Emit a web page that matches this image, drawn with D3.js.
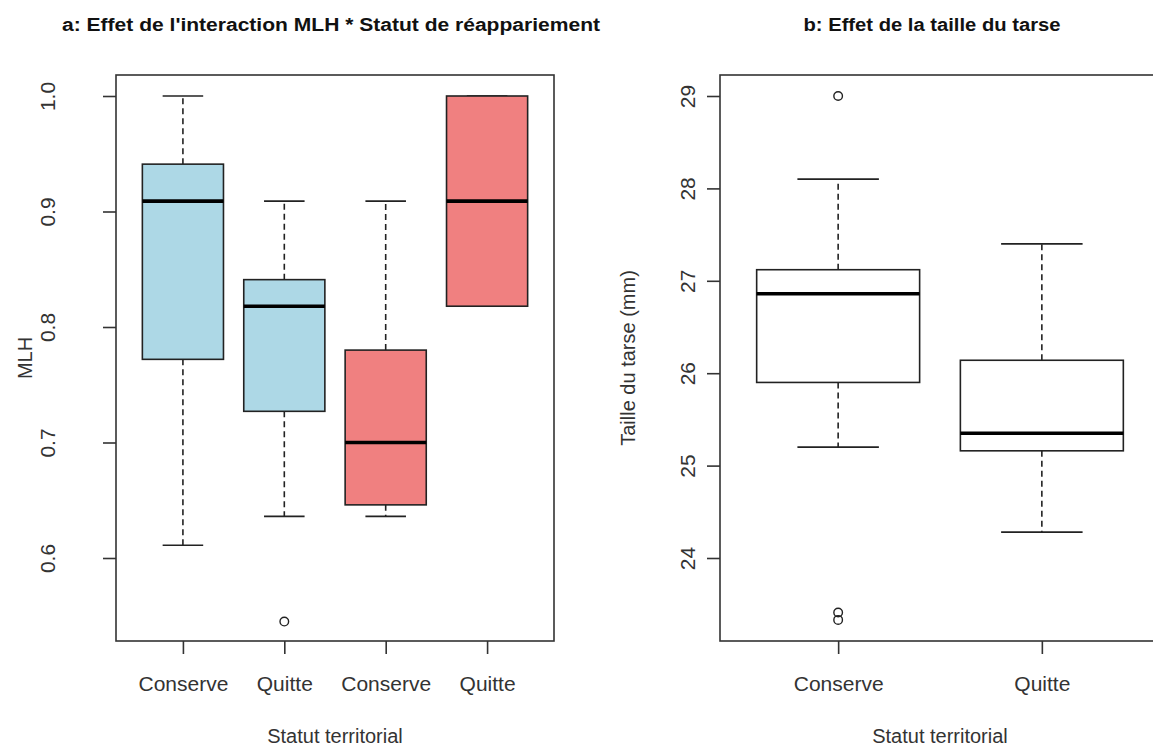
<!DOCTYPE html>
<html>
<head>
<meta charset="utf-8">
<script src="https://cdn.jsdelivr.net/npm/d3@7"></script>
<style>
  body { margin: 0; background: #fff; }
  text { font-family: "Liberation Sans", Arial, sans-serif; fill: #333; }
</style>
</head>
<body>
<svg id="chart" width="1153" height="746"></svg>
<script>
(function() {
"use strict";

// panel a: MLH by statut x reappariement
var catsA = ["Conserve", "Quitte", "Conserve", "Quitte"];
var lowA  = [0.611, 0.636, 0.636, 0.818];
var q1A   = [0.772, 0.727, 0.646, 0.818];
var medA  = [0.909, 0.818, 0.700, 0.909];
var q3A   = [0.941, 0.841, 0.780, 1.000];
var highA = [1.000, 0.909, 0.909, 1.000];
var outA  = [[], [0.545], [], []];
var ticksA = [0.6, 0.7, 0.8, 0.9, 1.0];

// panel b: taille du tarse
var catsB = ["Conserve", "Quitte"];
var lowB  = [25.20, 24.28];
var q1B   = [25.90, 25.16];
var medB  = [26.86, 25.35];
var q3B   = [27.12, 26.14];
var highB = [28.10, 27.40];
var outB  = [[29.0, 23.41, 23.33], []];
var ticksB = [24, 25, 26, 27, 28, 29];

var fillsA = ["#ADD8E6", "#ADD8E6", "#F08080", "#F08080"];
var fillsB = ["#ffffff", "#ffffff"];

var svg = d3.select("#chart");
var ink = "#222";

panel({
  left: 116, right: 554, top: 75, bottom: 641,
  title: "a: Effet de l'interaction MLH * Statut de réappariement",
  titleX: 331, titleLen: 538,
  ylab: "MLH", ylabX: 32, tickLabX: 55,
  cats: catsA, low: lowA, q1: q1A, med: medA, q3: q3A, high: highA, out: outA,
  fills: fillsA, ticks: ticksA, fmt: d3.format(".1f"),
  yTop: 1.0, yTopPx: 96, yRef: 0.6, yRefPx: 558
});

panel({
  left: 720, right: 1160, top: 75, bottom: 641,
  title: "b: Effet de la taille du tarse",
  titleX: 932, titleLen: 257,
  ylab: "Taille du tarse (mm)", ylabX: 635, tickLabX: 695,
  cats: catsB, low: lowB, q1: q1B, med: medB, q3: q3B, high: highB, out: outB,
  fills: fillsB, ticks: ticksB, fmt: d3.format("d"),
  yTop: 29, yTopPx: 96, yRef: 24, yRefPx: 558
});

function panel(o) {
  var n = o.cats.length;
  // R style x range: 0.5..n+0.5 plus 4%
  var pad = n * 0.04;
  var x = d3.scaleLinear().domain([0.5 - pad, n + 0.5 + pad]).range([o.left, o.right]);
  // y scale fitted to the tick positions
  var y = d3.scaleLinear().domain([o.yRef, o.yTop]).range([o.yRefPx, o.yTopPx]);

  var g = svg.append("g");
  var idx = d3.range(n);
  var half = 0.4, cap = 0.2;

  // whiskers
  g.selectAll(".wu").data(idx).enter().append("line")
    .attr("x1", function(i) { return x(i + 1); }).attr("x2", function(i) { return x(i + 1); })
    .attr("y1", function(i) { return y(o.q3[i]); }).attr("y2", function(i) { return y(o.high[i]); })
    .attr("stroke", ink).attr("stroke-width", 1.6).attr("stroke-dasharray", "6,4");
  g.selectAll(".wl").data(idx).enter().append("line")
    .attr("x1", function(i) { return x(i + 1); }).attr("x2", function(i) { return x(i + 1); })
    .attr("y1", function(i) { return y(o.q1[i]); }).attr("y2", function(i) { return y(o.low[i]); })
    .attr("stroke", ink).attr("stroke-width", 1.6).attr("stroke-dasharray", "6,4");

  // staples
  ["high", "low"].forEach(function(k) {
    g.selectAll(".st" + k).data(idx).enter().append("line")
      .attr("x1", function(i) { return x(i + 1 - cap); }).attr("x2", function(i) { return x(i + 1 + cap); })
      .attr("y1", function(i) { return y(o[k][i]); }).attr("y2", function(i) { return y(o[k][i]); })
      .attr("stroke", ink).attr("stroke-width", 1.6);
  });

  // boxes
  g.selectAll(".box").data(idx).enter().append("rect")
    .attr("x", function(i) { return x(i + 1 - half); })
    .attr("width", function(i) { return x(i + 1 + half) - x(i + 1 - half); })
    .attr("y", function(i) { return y(o.q3[i]); })
    .attr("height", function(i) { return y(o.q1[i]) - y(o.q3[i]); })
    .attr("fill", function(i) { return o.fills[i]; })
    .attr("stroke", ink).attr("stroke-width", 1.6);

  // medians
  g.selectAll(".med").data(idx).enter().append("line")
    .attr("x1", function(i) { return x(i + 1 - half); }).attr("x2", function(i) { return x(i + 1 + half); })
    .attr("y1", function(i) { return y(o.med[i]); }).attr("y2", function(i) { return y(o.med[i]); })
    .attr("stroke", "#000").attr("stroke-width", 3.6);

  // outliers
  var pts = [];
  o.out.forEach(function(arr, i) { arr.forEach(function(v) { pts.push({i: i, v: v}); }); });
  g.selectAll(".out").data(pts).enter().append("circle")
    .attr("cx", function(d) { return x(d.i + 1); })
    .attr("cy", function(d) { return y(d.v); })
    .attr("r", 4.3)
    .attr("fill", "none").attr("stroke", ink).attr("stroke-width", 1.4);

  // frame
  g.append("rect")
    .attr("x", o.left).attr("y", o.top)
    .attr("width", o.right - o.left).attr("height", o.bottom - o.top)
    .attr("fill", "none").attr("stroke", "#333").attr("stroke-width", 1.6);

  // y axis
  var ya = g.append("g").attr("transform", "translate(" + o.left + ",0)")
    .call(d3.axisLeft(y).tickValues(o.ticks).tickSize(13).tickFormat(o.fmt));
  ya.select(".domain").remove();
  ya.selectAll(".tick line").attr("stroke", "#333").attr("stroke-width", 1.6);
  ya.selectAll(".tick text")
    .attr("x", null).attr("dy", null)
    .attr("transform", "translate(" + (o.tickLabX - o.left) + ",0) rotate(-90)")
    .attr("text-anchor", "middle")
    .style("font-size", "21px").style("fill", "#333")
    .style("font-family", "'Liberation Sans', Arial, sans-serif");

  // x axis
  var xa = g.append("g").attr("transform", "translate(0," + o.bottom + ")")
    .call(d3.axisBottom(x).tickValues(d3.range(1, n + 1)).tickSize(13)
      .tickFormat(function(d) { return o.cats[d - 1]; }));
  xa.select(".domain").remove();
  xa.selectAll(".tick line").attr("stroke", "#333").attr("stroke-width", 1.6);
  xa.selectAll(".tick text")
    .attr("y", 50).attr("dy", null)
    .style("font-size", "21px").style("fill", "#333")
    .style("font-family", "'Liberation Sans', Arial, sans-serif");

  // titles
  svg.append("text")
    .attr("x", o.titleX).attr("y", 31)
    .attr("text-anchor", "middle")
    .attr("textLength", o.titleLen).attr("lengthAdjust", "spacingAndGlyphs")
    .style("font-size", "18px").style("font-weight", "bold").style("fill", "#111")
    .text(o.title);

  svg.append("text")
    .attr("x", (o.left + Math.min(o.right, 1160)) / 2).attr("y", 743)
    .attr("text-anchor", "middle")
    .style("font-size", "20px")
    .text("Statut territorial");

  svg.append("text")
    .attr("transform", "translate(" + o.ylabX + "," + ((o.top + o.bottom) / 2) + ") rotate(-90)")
    .attr("text-anchor", "middle")
    .style("font-size", "20px")
    .text(o.ylab);
}

})();
</script>
</body>
</html>
